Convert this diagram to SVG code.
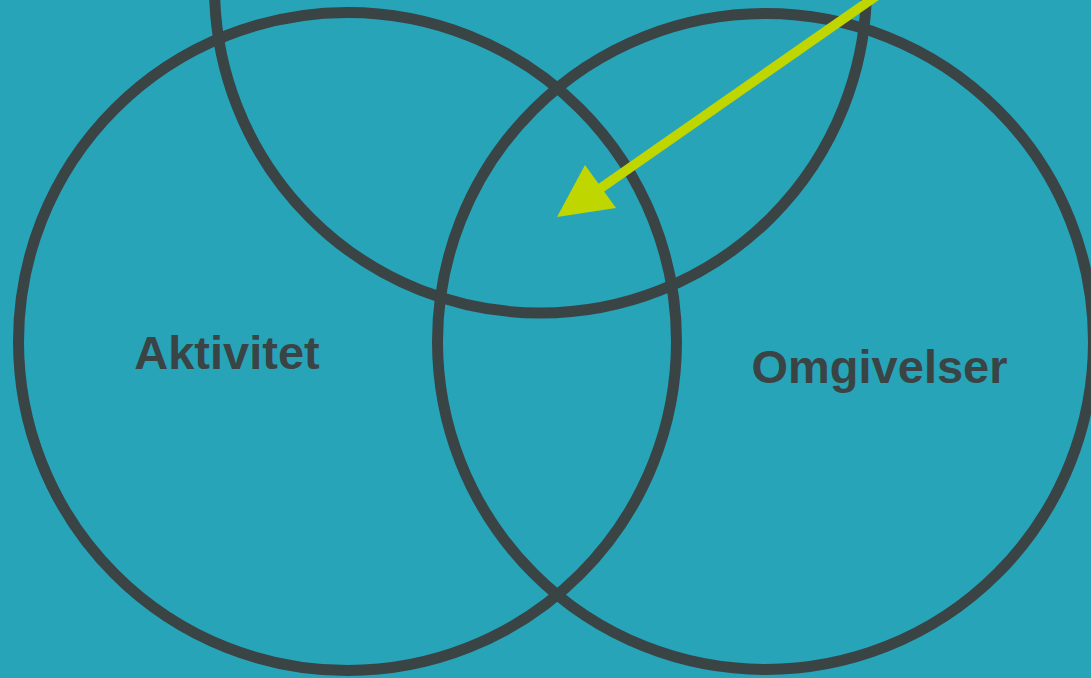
<svg xmlns="http://www.w3.org/2000/svg" width="1091" height="678" viewBox="0 0 1091 678">
<style>
.c{fill:none;stroke:#3a4445;stroke-width:11}
.t{font-family:"Liberation Sans",Arial,sans-serif;font-weight:bold;font-size:47px;fill:#3a4445}
</style>
<rect width="1091" height="678" fill="#28a4b9"/>
<g id="top"><circle class="c" cx="540.5" cy="-13" r="326"/></g>
<g id="aktivitet"><circle class="c" cx="347.5" cy="341.5" r="329"/><text class="t" x="227" y="369" text-anchor="middle">Aktivitet</text></g>
<g id="omgivelser"><circle class="c" cx="765.5" cy="341.5" r="328"/><text class="t" x="879.5" y="383" text-anchor="middle">Omgivelser</text></g>
<g id="connectors"><line x1="882" y1="-8" x2="598" y2="190" stroke="#bfd600" stroke-width="9.5"/><polygon points="557,217 585,165 616,208" fill="#bfd600"/></g>
</svg>
